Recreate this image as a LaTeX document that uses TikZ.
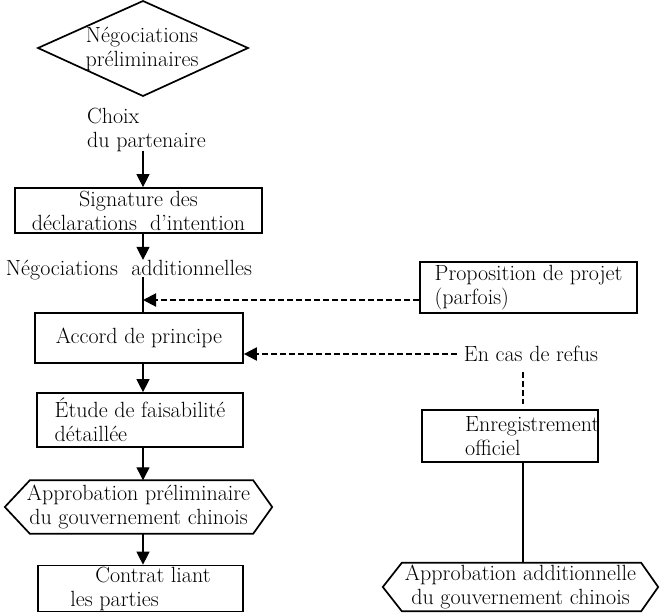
\documentclass[tikz,border=0pt]{standalone}
\usetikzlibrary{arrows.meta,calc}
\begin{document}
\begin{tikzpicture}[x=1pt,y=-1pt,
  txt/.style={font=\fontsize{22}{24}\selectfont, inner sep=0pt},
  boxn/.style={draw, line width=1.7pt, rectangle, inner sep=0pt, font=\fontsize{22}{24}\selectfont, align=center},
  ghost/.style={rectangle, inner sep=0pt, font=\fontsize{22}{24}\selectfont, align=center},
  outl/.style={line width=1.7pt, line join=miter},
  tipa/.style={-{Triangle[length=13pt,width=13pt]}},
  arr/.style={line width=1.2pt, tipa},
  plain/.style={line width=1.2pt},
  dsh/.style={line width=2pt, dash pattern=on 6pt off 3pt},
]
\useasboundingbox (0,0) rectangle (661,613);
\coordinate (spine) at (143,0);

% diamond
\coordinate (dc) at (143,48);
\draw[outl] ($(dc)+(-105,0)$) -- ($(dc)+(0,-47)$) -- ($(dc)+(105,0)$) -- ($(dc)+(0,48)$) -- cycle;
\node[ghost] (nego) at (142,49) {Négociations\\préliminaires};

\node[txt, align=left, anchor=west] (choix) at (87,130) {Choix\\du partenaire};

\node[boxn, minimum width=247pt, minimum height=45pt] (sig) at (138.5,210.5) {Signature des\\déclarations\ \ d'intention};

\node[txt] (nadd) at (129,270) {Négociations\ \ additionnelles};

\node[boxn, minimum width=208pt, minimum height=50pt] (accord) at (139,338) {Accord de principe};

\node[boxn, minimum width=206pt, minimum height=54pt, align=left] (etude) at (140,420) {Étude de faisabilité\\détaillée};

\node[ghost, minimum width=267pt, minimum height=53pt] (hexa) at (138.5,507) {Approbation préliminaire\\du gouvernement chinois};
\draw[outl] (hexa.west) -- ($(hexa.north west)+(25,0)$) -- ($(hexa.north east)+(-19,0)$) -- (hexa.east) -- ($(hexa.south east)+(-19,0)$) -- ($(hexa.south west)+(25,0)$) -- cycle;

\node[boxn, minimum width=205pt, minimum height=46pt, align=left] (contrat) at (140.5,588.5) {\hspace*{25pt}Contrat liant\\les parties};

% right column
\node[boxn, minimum width=217pt, minimum height=51pt, align=left] (prop) at (528.5,287.5) {Proposition de projet\\(parfois)};

\node[txt] (refus) at (531,354) {En cas de refus};

\node[boxn, minimum width=176pt, minimum height=52pt] (enreg) at (510,436) {};
\node[txt, align=left, anchor=west] (enregt) at (465,436) {Enregistrement\\officiel};

\node[ghost, minimum width=275pt, minimum height=48pt] (hexb) at (520.5,587) {Approbation additionnelle\\du gouvernement chinois};
\draw[outl] (hexb.west) -- ($(hexb.north west)+(19,0)$) -- ($(hexb.north east)+(-17,0)$) -- (hexb.east) -- ($(hexb.south east)+(-17,0)$) -- ($(hexb.south west)+(19,0)$) -- cycle;

% connectors
\draw[arr] ([yshift=1pt]choix.south -| spine) -- (sig.north -| spine);
\draw[arr] (sig.south -| spine) -- (nadd.north -| spine);
\draw[plain] ([yshift=3pt]nadd.south -| spine) -- (accord.north -| spine);
\coordinate (j1) at (143,300);
\draw[dsh, tipa] (prop.west |- j1) -- (j1);
\draw[arr] (accord.south -| spine) -- (etude.north -| spine);
\draw[arr] (etude.south -| spine) -- (hexa.north -| spine);
\draw[arr] (hexa.south -| spine) -- (contrat.north -| spine);

\draw[dsh, tipa] ([xshift=-7pt]refus.west) -- (refus.west -| accord.east);
\coordinate (d1) at (523,372);
\coordinate (d2) at (523,404);
\draw[dsh] (d1) -- (d2);
\draw[plain] (enreg.south -| d1) -- (hexb.north -| d1);
\end{tikzpicture}
\end{document}
